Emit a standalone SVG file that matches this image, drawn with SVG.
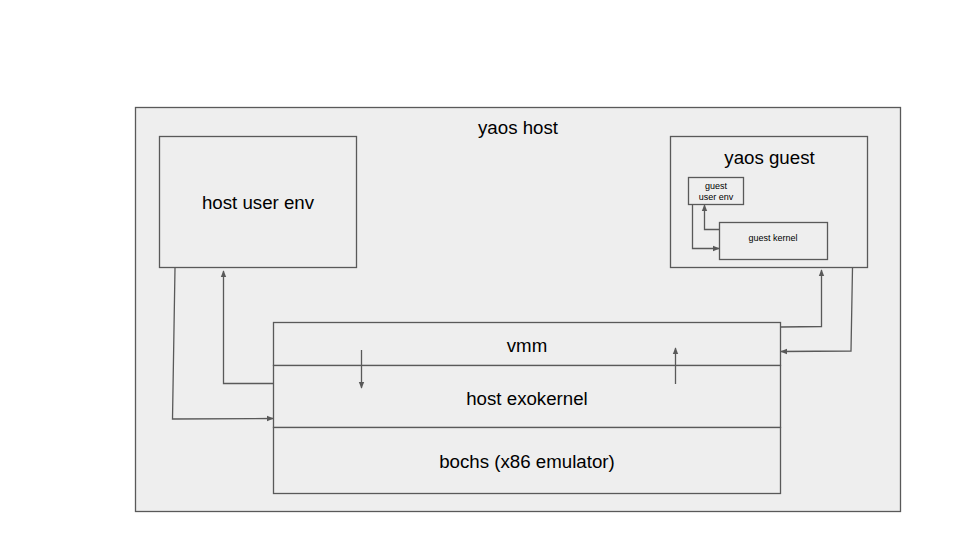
<svg xmlns="http://www.w3.org/2000/svg" width="960" height="540" viewBox="0 0 960 540">
<defs>
<marker id="ah" viewBox="0 0 10 10" refX="9" refY="5" markerWidth="7" markerHeight="7" orient="auto" markerUnits="userSpaceOnUse">
<path d="M0,1 L10,5 L0,9 z" fill="#595959"/>
</marker>
<style>
.box{fill:#eeeeee;stroke:#595959;stroke-width:1.3}
.ln{fill:none;stroke:#595959;stroke-width:1.3;marker-end:url(#ah)}
.t{font-family:"Liberation Sans",Arial,sans-serif;fill:#000;text-anchor:middle}
.big{font-size:18.7px}
</style>
</defs>
<rect width="960" height="540" fill="#ffffff"/>
<g id="yaos-host">
<rect class="box" x="135.5" y="107.5" width="765" height="404"/>
<text class="t big" x="518" y="134">yaos host</text>
</g>
<g id="host-user-env">
<rect class="box" x="159.5" y="136.5" width="197" height="131"/>
<text class="t big" x="258" y="209">host user env</text>
</g>
<g id="yaos-guest">
<rect class="box" x="670.5" y="136.5" width="197" height="131"/>
<text class="t big" x="769.5" y="164">yaos guest</text>
</g>
<g id="guest-user-env">
<rect class="box" x="688.5" y="177.5" width="55" height="27"/>
<text class="t" x="716" y="189" font-size="9">guest</text>
<text class="t" x="716" y="200" font-size="9">user env</text>
</g>
<g id="guest-kernel">
<rect class="box" x="719.5" y="222.5" width="108" height="37"/>
<text class="t" x="773" y="241" font-size="9">guest kernel</text>
</g>
<g id="vmm">
<rect class="box" x="273.5" y="322.5" width="507" height="43"/>
<text class="t big" x="527" y="352">vmm</text>
</g>
<g id="host-exokernel">
<rect class="box" x="273.5" y="365.5" width="507" height="62"/>
<text class="t big" x="527" y="405">host exokernel</text>
</g>
<g id="bochs">
<rect class="box" x="273.5" y="427.5" width="507" height="66"/>
<text class="t big" x="527" y="468">bochs (x86 emulator)</text>
</g>
<g id="connectors">
<path class="ln" d="M175,268 L172.5,419 L273,418.5"/>
<path class="ln" d="M273,383.5 L223.5,383.5 L223.5,271"/>
<path class="ln" d="M361.5,350 L361.5,388"/>
<path class="ln" d="M675.5,384 L675.5,348"/>
<path class="ln" d="M781,327 L821.5,326.5 L821.5,270"/>
<path class="ln" d="M852.5,268 L851,351 L781,351.5"/>
<path class="ln" d="M692.5,205 L692.5,248.5 L719,248.5"/>
<path class="ln" d="M719,229.5 L704.5,229.5 L704.5,205"/>
</g>
</svg>
